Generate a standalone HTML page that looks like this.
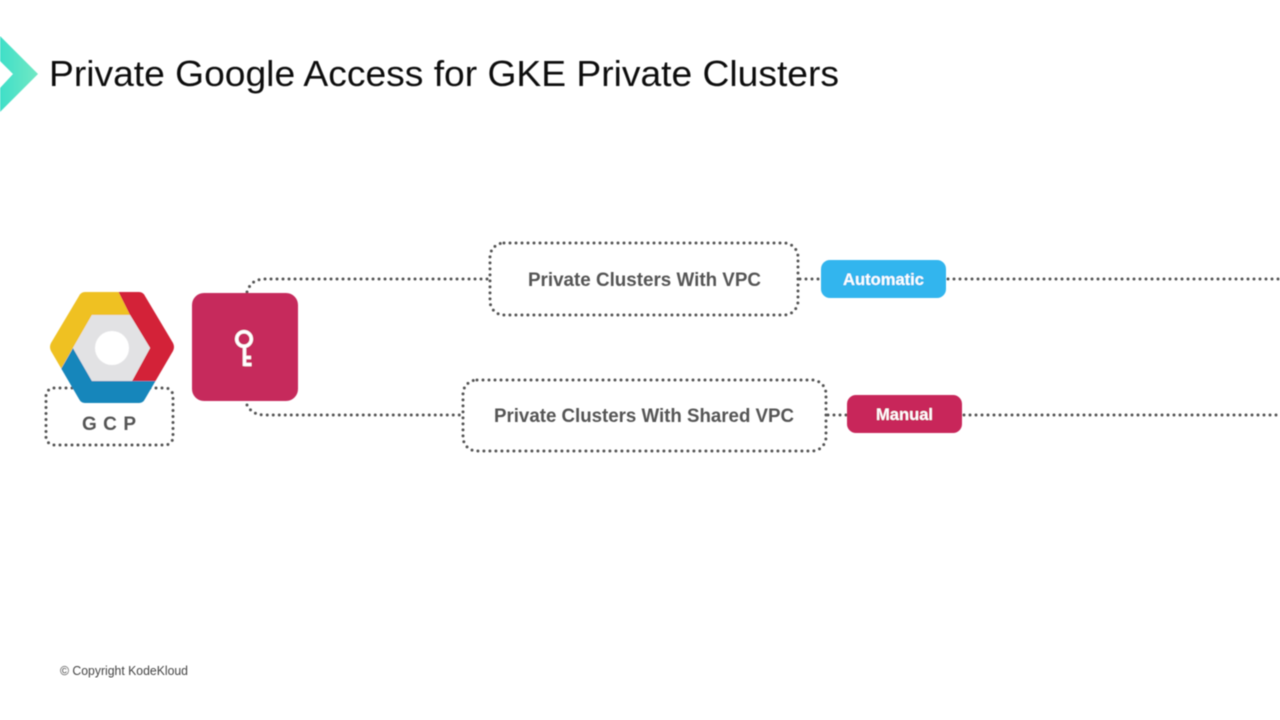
<!DOCTYPE html>
<html>
<head>
<meta charset="utf-8">
<style>
html,body{margin:0;padding:0;background:#fff;width:1280px;height:720px;overflow:hidden}
svg{display:block}
text{font-family:"Liberation Sans",sans-serif}
.d{fill:none;stroke:#555;stroke-width:3;stroke-linecap:round;stroke-dasharray:0 6}
.b{font-weight:700;font-size:19px;fill:#555}
</style>
</head>
<body>
<svg width="1280" height="720" viewBox="0 0 1280 720" xmlns="http://www.w3.org/2000/svg">
<defs>
<linearGradient id="g" x1="0" y1="0" x2="1" y2="0">
<stop offset="0" stop-color="#3fdfc8"/><stop offset="1" stop-color="#72e8c4"/>
</linearGradient>
<clipPath id="hex">
<path d="M85,292 L139,292 Q143,292 145,296 L173,343 Q175,347 173,351 L145,399 Q143,403 139,403 L85,403 Q81,403 79,399 L51,351 Q49,347 51,343 L79,296 Q81,292 85,292 Z"/>
</clipPath>
<filter id="soft" x="0" y="0" width="100%" height="100%"><feGaussianBlur stdDeviation="0.4"/></filter>
</defs>
<rect width="1280" height="720" fill="#fff"/>
<g filter="url(#soft)">
<polygon points="0,36 38,74 0,112 0,88 13,74 0,61" fill="url(#g)"/>
<text x="49" y="86" font-size="36" fill="#111" textLength="790" lengthAdjust="spacingAndGlyphs">Private Google Access for GKE Private Clusters</text>

<!-- GCP box -->
<rect class="d" x="46" y="388" width="127" height="57" rx="8"/>
<text x="82" y="430" font-size="19" font-weight="700" fill="#555" textLength="54" lengthAdjust="spacing">G C P</text>

<!-- hexagon -->
<g clip-path="url(#hex)">
<polygon points="70,285 115,285 130,315 92,315 73,348 61,369 40,347" fill="#efc122"/>
<polygon points="115,285 150,285 185,347 160,381 132,381 150,348 130,315" fill="#d32338"/>
<polygon points="73,348 92,381 160,381 150,410 75,410 61,369" fill="#1886bb"/>
</g>
<polygon points="92,315 130,315 150,348 132,381 92,381 73,348" fill="#e2e2e4"/>
<circle cx="112" cy="348" r="17" fill="#fff"/>

<!-- key square -->
<path class="d" d="M247,292 Q251,279 265,279 L490,279"/>
<path class="d" d="M247,405 Q252,415 265,415 L463,415"/>
<rect x="192" y="293" width="106" height="108" rx="12" fill="#c62a5c"/>
<circle cx="244" cy="339" r="7.300" fill="none" stroke="#fff" stroke-width="3.500"/>
<path d="M244.500,346 V366 M244.500,357.500 H251 M244.500,364.500 H251.500" fill="none" stroke="#fff" stroke-width="3.500"/>

<!-- top row -->
<rect class="d" x="490" y="243" width="308" height="72" rx="14"/>
<text class="b" x="528" y="286" textLength="233" lengthAdjust="spacingAndGlyphs">Private Clusters With VPC</text>
<path class="d" d="M800,279 L821,279"/>
<rect x="821" y="260" width="125" height="38" rx="9" fill="#33b5ee"/>
<text x="843" y="285" font-size="17" font-weight="700" fill="#fff" textLength="81" lengthAdjust="spacingAndGlyphs">Automatic</text>
<path class="d" d="M948,279 L1280,279"/>

<!-- bottom row -->
<rect class="d" x="463" y="380" width="363" height="71" rx="14"/>
<text class="b" x="494" y="422" textLength="300" lengthAdjust="spacingAndGlyphs">Private Clusters With Shared VPC</text>
<path class="d" d="M828,415 L847,415"/>
<rect x="847" y="395" width="115" height="38" rx="9" fill="#c8265a"/>
<text x="876" y="420" font-size="17" font-weight="700" fill="#fff" textLength="57" lengthAdjust="spacingAndGlyphs">Manual</text>
<path class="d" d="M964,415 L1280,415"/>

<text x="60" y="675" font-size="12.500" fill="#444" textLength="128" lengthAdjust="spacingAndGlyphs">© Copyright KodeKloud</text>
</g>
</svg>
</body>
</html>
